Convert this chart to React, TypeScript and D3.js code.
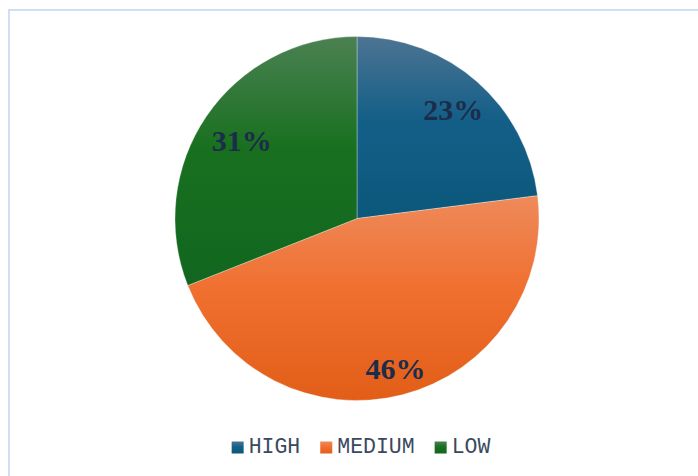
import React from "react";
import * as d3 from "d3";

const categories = ["HIGH", "MEDIUM", "LOW"];
const values = [23, 46, 31];
const labels = ["23%", "46%", "31%"];
const gradients = [
  ["#4d7492", "#145f88", "#0b587b"],
  ["#ee8a5a", "#f07030", "#e25e18"],
  ["#4b8152", "#18701f", "#126620"],
];
// label distance factors (layout)
const labelRadiusFactor = [0.8, 0.85, 0.765];

const W = 698;
const H = 476;
const cx = 357;
const cy = 218.5;
const R = 182;

const serifFont = '"Times New Roman", "Liberation Serif", Tinos, serif';
const monoFont = '"Courier New", "Nimbus Mono PS", FreeMono, "Liberation Mono", monospace';

export default function App() {
  const pie = d3.pie<number>().sort(null).value((d) => d)(values);
  const arc = d3.arc<d3.PieArcDatum<number>>().innerRadius(0).outerRadius(R);

  const fs = 21.5;
  const charW = fs * 0.6;
  const sw = 12;
  const gapST = 5;
  const gapItems = 20;
  const widths = categories.map((c) => sw + gapST + c.length * charW);
  const total = widths.reduce((a, b) => a + b, 0) + gapItems * (categories.length - 1);
  let lx = 361 - total / 2;
  const legendItems = categories.map((c, i) => {
    const x = lx;
    lx += widths[i] + gapItems;
    return { c, i, x };
  });

  return (
    <svg
      width={W}
      height={H}
      style={{ position: "absolute", left: 0, top: 0, background: "#fff" }}
    >
      <defs>
        {gradients.map((g, i) => (
          <linearGradient key={i} id={`g${i}`} x1="0" y1="0" x2="0" y2="1">
            <stop offset="0" stopColor={g[0]} />
            <stop offset="0.45" stopColor={g[1]} />
            <stop offset="1" stopColor={g[2]} />
          </linearGradient>
        ))}
      </defs>
      <rect x={9} y={10} width={W} height={H} fill="none" stroke="#cfe0f4" strokeWidth={2} />
      <g transform={`translate(${cx},${cy})`}>
        {pie.map((p, i) => (
          <path
            key={i}
            d={arc(p) || ""}
            fill={`url(#g${i})`}
            stroke="rgba(255,255,255,0.45)"
            strokeWidth={0.7}
          />
        ))}
        {pie.map((p, i) => {
          const a = (p.startAngle + p.endAngle) / 2;
          const r = R * labelRadiusFactor[i];
          const x = Math.sin(a) * r;
          const y = -Math.cos(a) * r;
          return (
            <text
              key={i}
              x={x}
              y={y}
              dy="0.35em"
              textAnchor="middle"
              style={{ fontFamily: serifFont, fontWeight: 700, fontSize: 30 }}
              fill="#1b2d4a"
            >
              {labels[i]}
            </text>
          );
        })}
      </g>
      <g>
        {legendItems.map(({ c, i, x }) => (
          <g key={c}>
            <rect x={x} y={441.5} width={sw} height={sw} fill={`url(#g${i})`} />
            <text
              x={x + sw + gapST}
              y={453}
              style={{ fontFamily: monoFont, fontSize: fs }}
              fill="#3a4a5e"
            >
              {c}
            </text>
          </g>
        ))}
      </g>
    </svg>
  );
}
